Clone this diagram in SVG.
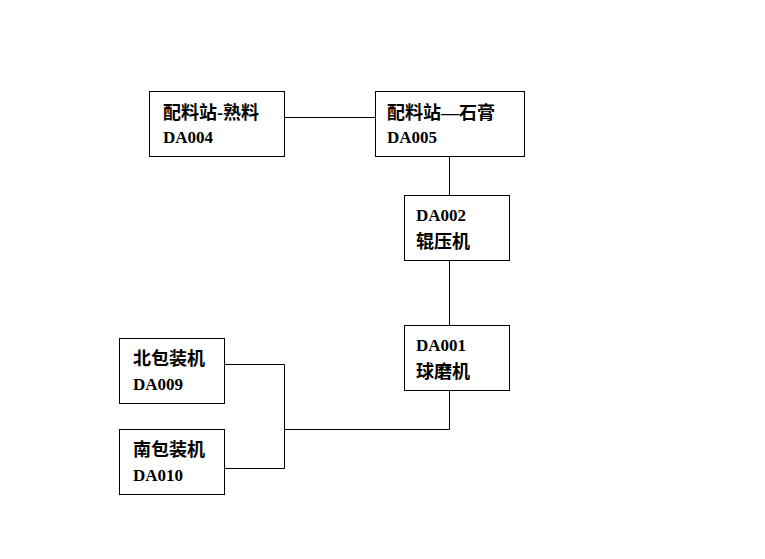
<svg xmlns="http://www.w3.org/2000/svg" width="765" height="559" viewBox="0 0 765 559">
<style>
.box{fill:#fff;stroke:#000;stroke-width:1}
.t{font-family:"Liberation Serif","Noto Sans CJK SC",serif;font-weight:bold;fill:#000}
.l{font-size:17px}
.z{font-size:18px}
.c{fill:none;stroke:#000;stroke-width:1}
</style>
<rect width="765" height="559" fill="#fff"/>
<g id="connectors">
<path class="c" d="M284.5 117.5H375.5"/>
<path class="c" d="M449.5 156.5V195.5"/>
<path class="c" d="M449.5 260.5V325.5"/>
<path class="c" d="M224.5 364.5H284.5V468.5H224.5"/>
<path class="c" d="M284.5 429.5H449.5V390.5"/>
</g>
<g id="DA004">
<rect class="box" x="149.5" y="91.5" width="135" height="65"/>
<text class="t z" x="163" y="119">配料站-熟料</text>
<text class="t l" x="163" y="143">DA004</text>
</g>
<g id="DA005">
<rect class="box" x="375.5" y="91.5" width="149" height="65"/>
<text class="t z" x="387" y="119">配料站—石膏</text>
<text class="t l" x="387" y="143">DA005</text>
</g>
<g id="DA002">
<rect class="box" x="404.5" y="195.5" width="105" height="65"/>
<text class="t l" x="416" y="221">DA002</text>
<text class="t z" x="416" y="248">辊压机</text>
</g>
<g id="DA001">
<rect class="box" x="404.5" y="325.5" width="105" height="65"/>
<text class="t l" x="416" y="351">DA001</text>
<text class="t z" x="416" y="378">球磨机</text>
</g>
<g id="DA009">
<rect class="box" x="119.5" y="338.5" width="105" height="65"/>
<text class="t z" x="133" y="365">北包装机</text>
<text class="t l" x="133" y="390">DA009</text>
</g>
<g id="DA010">
<rect class="box" x="119.5" y="429.5" width="105" height="65"/>
<text class="t z" x="133" y="456">南包装机</text>
<text class="t l" x="133" y="481">DA010</text>
</g>
</svg>
